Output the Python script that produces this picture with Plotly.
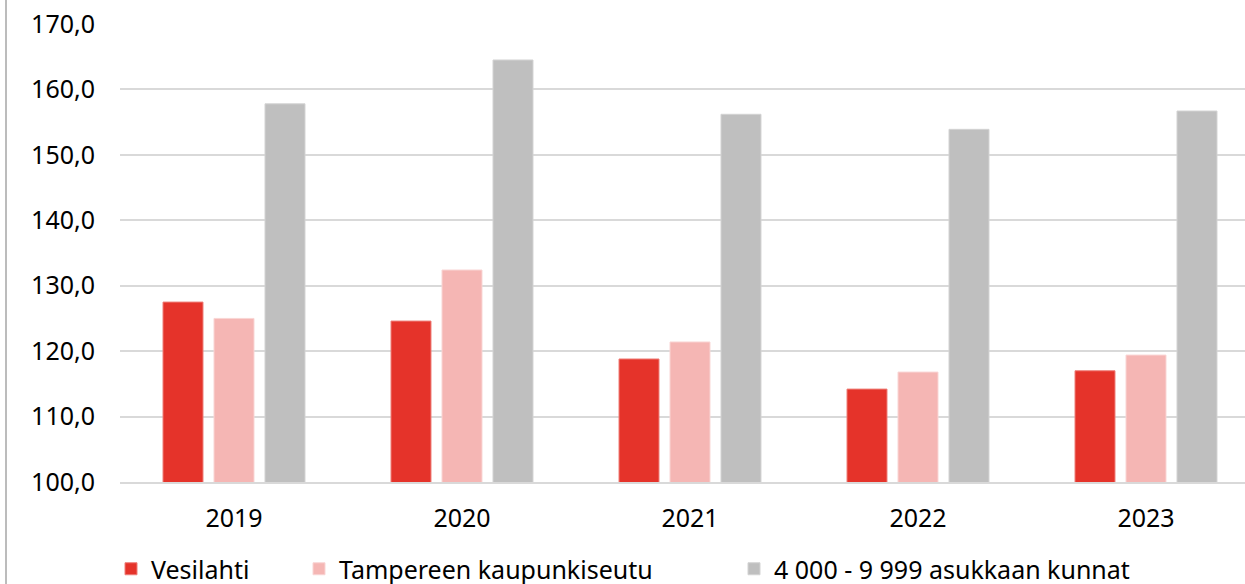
import plotly.graph_objects as go

years = ["2019", "2020", "2021", "2022", "2023"]
vesilahti = [127.5, 124.6, 118.8, 114.2, 117.0]
tampere_seutu = [125.0, 132.4, 121.4, 116.8, 119.4]
kunnat_4000_9999 = [157.8, 164.5, 156.2, 153.9, 156.7]

names = ["Vesilahti", "Tampereen kaupunkiseutu", "4 000 - 9 999 asukkaan kunnat"]
colors = ["#E5332A", "#F5B6B4", "#BFBFBF"]
line_colors = ["#EE7E78", "#F9D5D4", "#D3D3D3"]
y_ticks = [100, 110, 120, 130, 140, 150, 160, 170]
y_tick_text = ["100,0", "110,0", "120,0", "130,0", "140,0", "150,0", "160,0", "170,0"]

W, H = 1245, 584
L, R, T, B = 120, 0, 24, 102
pw = W - L - R
ph = H - T - B

FONT = "Noto Sans"
FS = 25

fig = go.Figure()
series = [vesilahti, tampere_seutu, kunnat_4000_9999]
legend_ids = ["legend2", "legend3", "legend4"]
for vals, name, c, lc, lid in zip(series, names, colors, line_colors, legend_ids):
    fig.add_trace(go.Bar(
        x=years, y=vals, name=name, legend=lid,
        marker=dict(color=c, line=dict(color=lc, width=1)),
    ))

def px_x(p):
    return (p - L) / pw

def px_y(p):
    return (H - B - p) / ph

legend_common = dict(
    orientation="h", yanchor="top", y=px_y(546), xanchor="left",
    font=dict(family=FONT, size=FS, color="#000000"),
    bgcolor="rgba(0,0,0,0)", borderwidth=0,
)

fig.update_layout(
    width=W, height=H,
    margin=dict(l=L, r=R, t=T, b=B, autoexpand=False),
    paper_bgcolor="white", plot_bgcolor="white",
    barmode="group", bargap=0.329, bargroupgap=0.216,
    font=dict(family=FONT, size=FS, color="#000000"),
    xaxis=dict(
        type="category", range=[-0.5, -0.5 + pw / 228.0],
        showgrid=False, showline=True, linecolor="#D9D9D9", linewidth=1.5,
        ticks="", ticklabelstandoff=13,
        tickfont=dict(family=FONT, size=FS, color="#000000"),
    ),
    yaxis=dict(
        range=[100, 170], tickvals=y_ticks, ticktext=y_tick_text,
        showgrid=True, gridcolor="#D9D9D9", gridwidth=1.5,
        zeroline=False, showline=False, ticks="", ticklabelstandoff=24,
        tickfont=dict(family=FONT, size=FS, color="#000000"),
    ),
    legend2=dict(x=px_x(111), **legend_common),
    legend3=dict(x=px_x(299), **legend_common),
    legend4=dict(x=px_x(734), **legend_common),
    shapes=[dict(
        type="line", xref="paper", yref="paper",
        x0=px_x(6), x1=px_x(6), y0=px_y(0), y1=px_y(H),
        line=dict(color="#A6A6A6", width=1.5),
    )],
)

fig.write_html(
    "out.html",
    config={"displayModeBar": False},
    post_script="document.body.style.margin='0';document.body.style.overflow='hidden';",
)
